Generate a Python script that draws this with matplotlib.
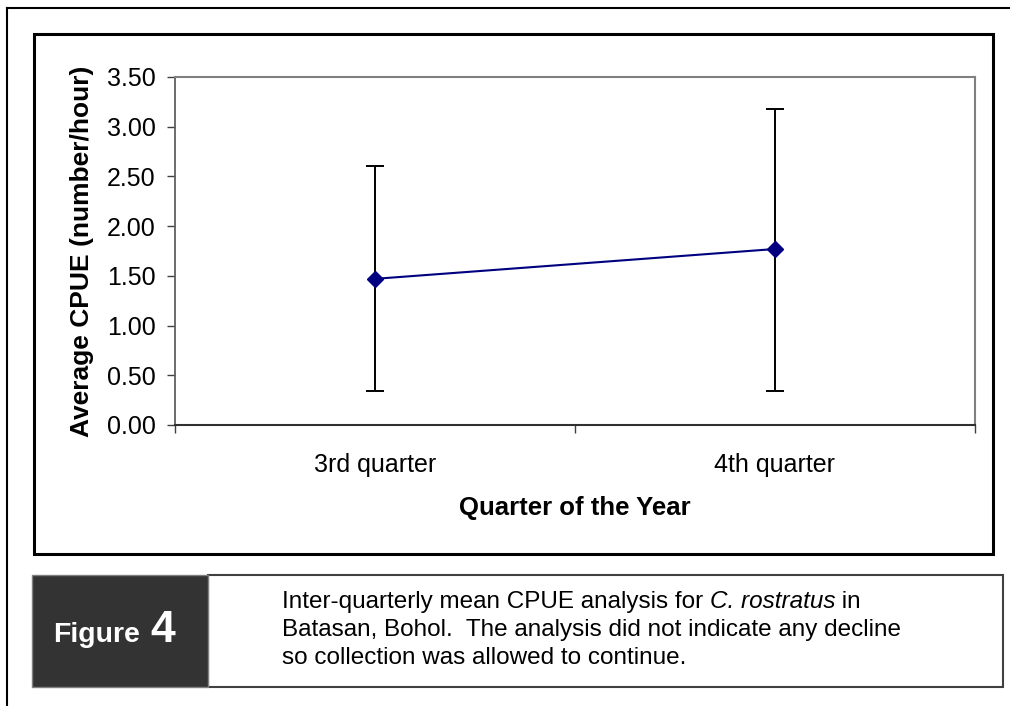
import matplotlib.pyplot as plt
from matplotlib.patches import Rectangle

plt.rcParams['font.family'] = ['Liberation Sans', 'DejaVu Sans']

# veriler
quarters = ["3rd quarter", "4th quarter"]
mean_cpue = [1.47, 1.77]
err_low = [1.13, 1.43]
err_high = [1.13, 1.41]
y_ticks = [0.0, 0.5, 1.0, 1.5, 2.0, 2.5, 3.0, 3.5]

W, H = 1010, 706
fig = plt.figure(figsize=(W / 100, H / 100), dpi=100)


def px_rect(x0, y0, x1, y1, **kw):
    # piksel koordinatlarindan (ust-sol orijin) figure koordinatlarina
    r = Rectangle((x0 / W, 1 - y1 / H), (x1 - x0) / W, (y1 - y0) / H,
                  transform=fig.transFigure, **kw)
    fig.patches.append(r)
    return r


# dis cerceve (sadece sol ve ust gorunuyor)
fig.add_artist(plt.Line2D([7 / W, 7 / W], [0, 1 - 8 / H], transform=fig.transFigure, color="black", lw=1.5))
fig.add_artist(plt.Line2D([7 / W, 1], [1 - 8 / H, 1 - 8 / H], transform=fig.transFigure, color="black", lw=1.5))

# grafik kutusu
px_rect(34, 34, 993, 554, fill=False, edgecolor="black", lw=2.2)

# grafik alani
left, top, right, bottom = 175, 77, 975, 425
ax = fig.add_axes([left / W, 1 - bottom / H, (right - left) / W, (bottom - top) / H])

x = [i + 0.5 for i in range(len(quarters))]
ax.errorbar(x, mean_cpue, yerr=[err_low, err_high], fmt="none", ecolor="black",
            elinewidth=1.4, capsize=6.5, capthick=1.4, zorder=2)
ax.plot(x, mean_cpue, color="#000080", lw=1.5, marker="D", markersize=8, zorder=3)

ax.set_xlim(0, len(quarters))
ax.set_ylim(0, 3.5)
ax.set_yticks(y_ticks)
ax.set_yticklabels([f"{v:.2f}" for v in y_ticks], fontsize=18)
ax.set_xticks(range(len(quarters) + 1))
ax.set_xticklabels([])
ax.set_xticks(x, minor=True)
ax.set_xticklabels(quarters, minor=True, fontsize=18)
ax.tick_params(axis="x", which="minor", length=0, pad=20)
ax.tick_params(axis="x", which="major", length=6, width=1, color="#404040", direction="out")
ax.tick_params(axis="y", length=6, width=1, color="#404040", direction="out", pad=8)

for s in ["top", "right"]:
    ax.spines[s].set_color("#808080")
    ax.spines[s].set_linewidth(1.5)
ax.spines["left"].set_color("#606060")
ax.spines["left"].set_linewidth(1.3)
ax.spines["bottom"].set_color("#303030")
ax.spines["bottom"].set_linewidth(1.5)

ax.set_ylabel("Average CPUE (number/hour)", fontsize=19, fontweight="bold", labelpad=9)
ax.set_xlabel("Quarter of the Year", fontsize=18.5, fontweight="bold", labelpad=14)

# sekil aciklamasi
px_rect(208, 575, 1003, 687, facecolor="white", edgecolor="#404040", lw=1.5)
px_rect(32, 575, 208, 687, facecolor="#333333", edgecolor="#808080", lw=1.0)
fig.text(53 / W, 1 - 642 / H, "Figure", color="white", fontsize=20.5, fontweight="bold",
         ha="left", va="baseline")
fig.text(150 / W, 1 - 642 / H, "4", color="white", fontsize=32, fontweight="bold",
         ha="left", va="baseline")

cap_size = 17.5
renderer = fig.canvas.get_renderer()
xpos = 282
for part, style in [("Inter-quarterly mean CPUE analysis for ", "normal"),
                    ("C. rostratus", "italic"), (" in", "normal")]:
    t = fig.text(xpos / W, 1 - 602 / H, part, fontsize=cap_size, style=style, va="center")
    xpos += t.get_window_extent(renderer).width
fig.text(282 / W, 1 - 630 / H, "Batasan, Bohol.  The analysis did not indicate any decline",
         fontsize=cap_size, va="center")
fig.text(282 / W, 1 - 658 / H, "so collection was allowed to continue.",
         fontsize=cap_size, va="center")

fig.savefig("out.png", dpi=100)
